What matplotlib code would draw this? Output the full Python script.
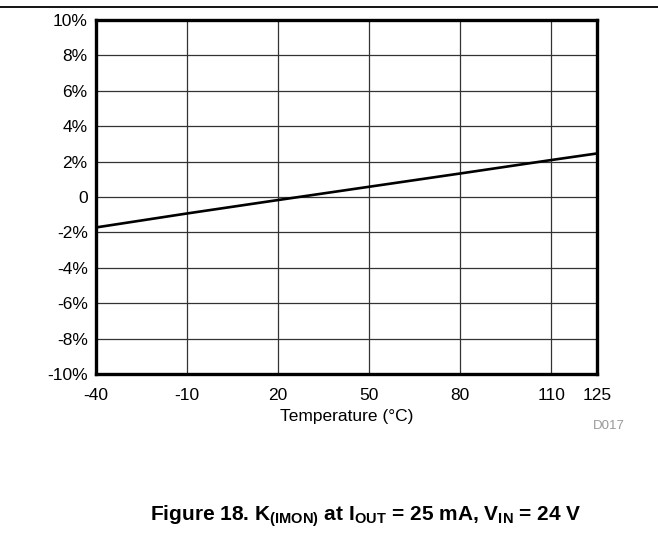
import matplotlib
matplotlib.use("Agg")
import matplotlib.pyplot as plt
from matplotlib.lines import Line2D

plt.rcParams['font.family'] = ['Liberation Sans', 'DejaVu Sans']
plt.rcParams['mathtext.fontset'] = 'custom'
plt.rcParams['mathtext.rm'] = 'Liberation Sans'
plt.rcParams['mathtext.bf'] = 'Liberation Sans:bold'

# Data
temperature = [-40, -10, 20, 50, 80, 110, 125]
k_imon = [-1.72, -0.93, -0.17, 0.58, 1.33, 2.09, 2.46]
x_ticks = [-40, -10, 20, 50, 80, 110, 125]
y_ticks = [-10, -8, -6, -4, -2, 0, 2, 4, 6, 8, 10]
y_tick_labels = ['-10%', '-8%', '-6%', '-4%', '-2%', '0', '2%', '4%', '6%', '8%', '10%']

W, H = 658, 543
fig = plt.figure(figsize=(W / 100, H / 100), dpi=100)

left, right, top, bottom = 96, 597, 20, 374
ax = fig.add_axes([left / W, 1 - bottom / H, (right - left) / W, (bottom - top) / H])

ax.plot(temperature, k_imon, color='black', lw=1.9, solid_capstyle='butt', zorder=3)
ax.set_xlim(-40, 125)
ax.set_ylim(-10, 10)
ax.set_xticks(x_ticks)
ax.set_xticklabels([str(t) for t in x_ticks])
ax.set_yticks(y_ticks)
ax.set_yticklabels(y_tick_labels)
ax.tick_params(length=0, labelsize=12.5, colors='black')
ax.tick_params(axis='y', pad=6)
ax.tick_params(axis='x', pad=10)
ax.grid(True, color='#333333', lw=0.9)
for s in ax.spines.values():
    s.set_linewidth(2.4)
    s.set_color('black')
ax.set_xlabel('Temperature (°C)', fontsize=12.5, labelpad=4.5)

fig.text(609 / W, 1 - 426 / H, 'D017', fontsize=9.5, color='#999999', ha='center', va='center')

# top rule
fig.add_artist(Line2D([0, 1], [1 - 7 / H, 1 - 7 / H], color='black', lw=1.3, transform=fig.transFigure))

fig.text(365.5 / W, 1 - 516 / H,
         r'Figure 18. K$_{\mathbf{(IMON)}}$ at I$_{\mathbf{OUT}}$ = 25 mA, V$_{\mathbf{IN}}$ = 24 V',
         fontsize=15, fontweight='bold', ha='center', va='center')

fig.savefig('out.png', dpi=100)
